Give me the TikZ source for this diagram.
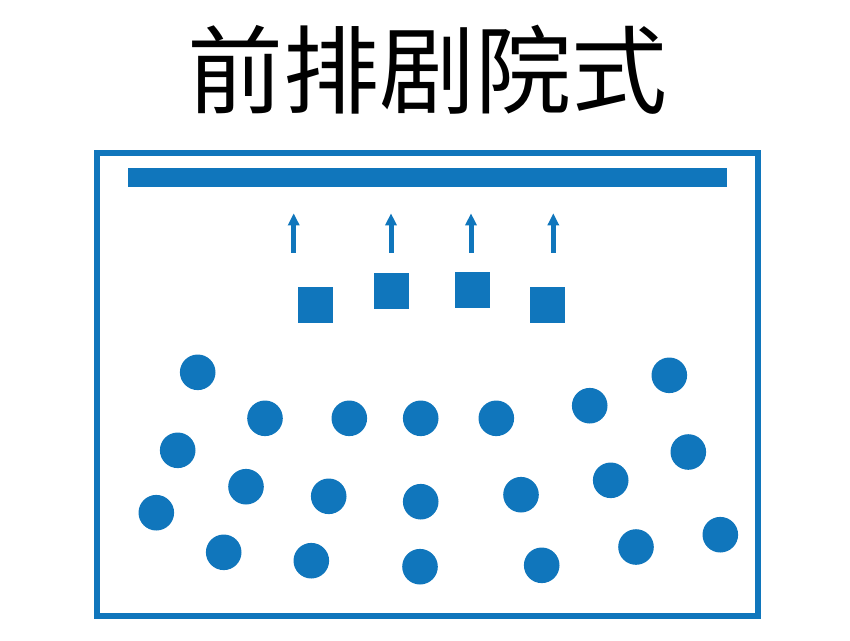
\documentclass[tikz,border=0pt]{standalone}
\usepackage{fontspec}
\newfontfamily\cjk{Noto Sans CJK SC}
\usetikzlibrary{arrows.meta}
\definecolor{hallblue}{RGB}{16,118,188}
\tikzset{
  seat/.style={circle, fill=hallblue, minimum size=35.6pt, inner sep=0pt},
  desk/.style={rectangle, fill=hallblue, minimum width=35pt, minimum height=36pt, inner sep=0pt},
  facing/.style={hallblue, line width=5pt, -{Triangle[width=11pt,length=12pt]}}
}
\begin{document}
\begin{tikzpicture}[x=1pt,y=-1pt]
            \useasboundingbox (0,0) rectangle (850,640);
            \node[anchor=base, font=\cjk\fontsize{96}{100}\selectfont] (title) at (427.5,106) {前排剧院式};
            \draw[hallblue, line width=6pt](97,152.5) rectangle (758,616);
            \fill[hallblue](127.7,168.3) rectangle (727,186.7);
            \coordinate (a1s) at (293.7,252.7); \coordinate (a1e) at (293.7,213.3);
            \coordinate (a2s) at (391,252.7);   \coordinate (a2e) at (391,213.3);
            \coordinate (a3s) at (471,252.7);   \coordinate (a3e) at (471,213.3);
            \coordinate (a4s) at (553.3,252.7); \coordinate (a4e) at (553.3,213.3);
            \draw[facing](a1s) -- (a1e);
            \draw[facing](a2s) -- (a2e);
            \draw[facing](a3s) -- (a3e);
            \draw[facing](a4s) -- (a4e);
            \node[desk] (d1) at (315.8,305) {};
            \node[desk] (d2) at (391.2,291.3) {};
            \node[desk] (d3) at (472,290.3) {};
            \node[desk] (d4) at (547.2,305) {};
            \node[seat] (s1) at (197.7,372.3) {};
            \node[seat] (s2) at (265,418.3) {};
            \node[seat] (s3) at (349.3,418.3) {};
            \node[seat] (s4) at (420.7,418.3) {};
            \node[seat] (s5) at (177.7,450.3) {};
            \node[seat] (s6) at (246,486.7) {};
            \node[seat] (s7) at (328.7,496.3) {};
            \node[seat] (s8) at (420.7,501.7) {};
            \node[seat] (s9) at (156.3,512.7) {};
            \node[seat] (s10) at (223.7,552.3) {};
            \node[seat] (s11) at (311.3,560.7) {};
            \node[seat] (s12) at (420,566.7) {};
            \node[seat] (s13) at (496.3,418.3) {};
            \node[seat] (s14) at (589.7,405.7) {};
            \node[seat] (s15) at (669.3,375.3) {};
            \node[seat] (s16) at (688.3,452) {};
            \node[seat] (s17) at (610.7,480.3) {};
            \node[seat] (s18) at (521,494.7) {};
            \node[seat] (s19) at (541.7,565.3) {};
            \node[seat] (s20) at (636,547) {};
            \node[seat] (s21) at (720.3,534.7) {};
        \end{tikzpicture}
\end{document}
